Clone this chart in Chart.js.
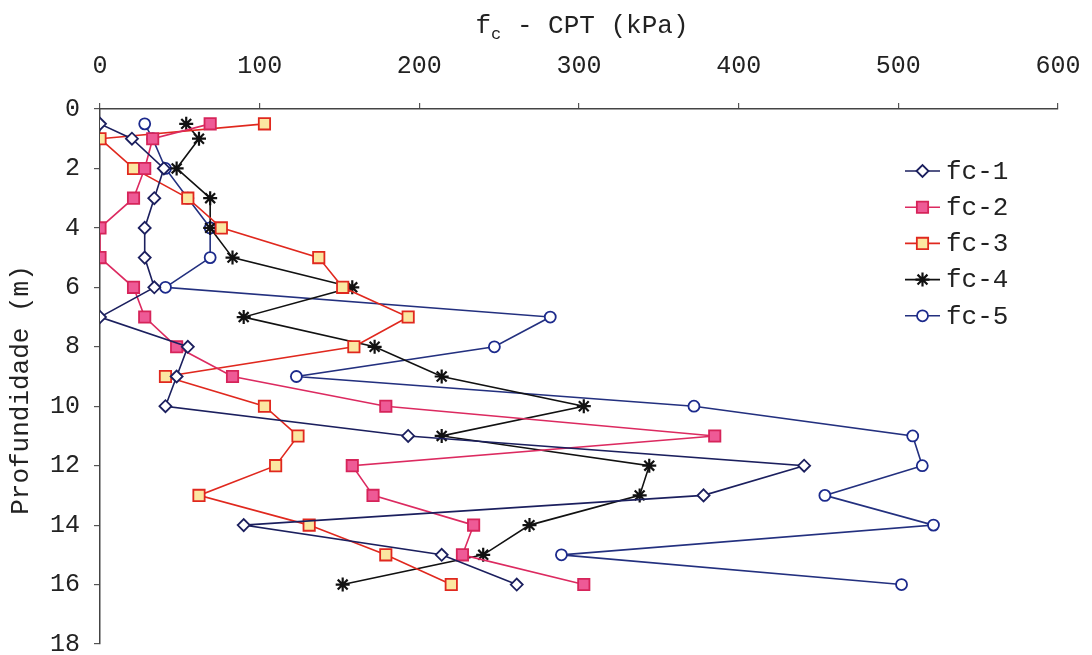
<!DOCTYPE html>
<html lang="pt">
<head>
    <meta charset="UTF-8">
    <title>fc - CPT x Profundidade</title>
    <script src="https://cdn.jsdelivr.net/npm/chart.js"></script>
    <style>
        body { margin: 0; background: #fff; }
        #wrap { position: relative; width: 1092px; height: 655px; }
    </style>
</head>
<body>
<div id="wrap">
    <canvas id="fcChart" width="1092" height="655"></canvas>
</div>

<script>
    // profundidade (m) de cada leitura
    const depths = [0.5, 1, 2, 3, 4, 5, 6, 7, 8, 9, 10, 11, 12, 13, 14, 15, 16];

    // atrito lateral fc (kPa) por ensaio
    const fc1 = [0, 20, 40, 34, 28, 28, 34, 0, 55, 48, 41, 193, 441, 378, 90, 214, 261];
    const fc2 = [69, 33, 28, 21, 0, 0, 21, 28, 48, 83, 179, 385, 158, 171, 234, 227, 303];
    const fc3 = [103, 0, 21, 55, 76, 137, 152, 193, 159, 41, 103, 124, 110, 62, 131, 179, 220];
    const fc4 = [54, 62, 48, 69, 69, 83, 158, 90, 172, 214, 303, 214, 344, 338, 269, 240, 152];
    const fc5 = [28, 33, 41, 55, 69, 69, 41, 282, 247, 123, 372, 509, 515, 454, 522, 289, 502];

    const seriesNames = ["fc-1", "fc-2", "fc-3", "fc-4", "fc-5"];
    const xTicks = [0, 100, 200, 300, 400, 500, 600];
    const yTicks = [0, 2, 4, 6, 8, 10, 12, 14, 16, 18];

    const FONT = "'Liberation Mono', 'DejaVu Sans Mono', monospace";
    const TXT = "#222";

    function toPoints(vals) {
        return vals.map((v, i) => ({ x: v, y: depths[i] }));
    }

    const styles = [
        { line: "#1b1f5e", fill: "#ffffff", border: "#1b1f5e", point: "rectRot", r: 6 },
        { line: "#dc2a60", fill: "#ee5a96", border: "#d6245a", point: "rect", r: 8 },
        { line: "#e0281e", fill: "#fbe7a1", border: "#e0281e", point: "rect", r: 8 },
        { line: "#111111", fill: "#111111", border: "#111111", point: "star", r: 7 },
        { line: "#23307f", fill: "#ffffff", border: "#1c2a8c", point: "circle", r: 5.5 }
    ];

    const allSeries = [fc1, fc2, fc3, fc4, fc5];

    const datasets = allSeries.map((vals, i) => ({
        label: seriesNames[i],
        data: toPoints(vals),
        showLine: true,
        borderColor: styles[i].line,
        borderWidth: 1.6,
        pointStyle: styles[i].point,
        pointRadius: styles[i].r,
        pointBackgroundColor: styles[i].fill,
        pointBorderColor: styles[i].border,
        pointBorderWidth: i === 3 ? 2.2 : 1.8,
        tension: 0
    }));

    // titulo do eixo x com subscrito e titulo do eixo y
    const axisTitles = {
        id: "axisTitles",
        afterDraw(chart) {
            const ctx = chart.ctx;
            ctx.save();
            ctx.fillStyle = TXT;
            ctx.textBaseline = "alphabetic";
            ctx.font = "26px " + FONT;
            const wf = ctx.measureText("f").width;
            ctx.font = "17px " + FONT;
            const wc = ctx.measureText("c").width;
            ctx.font = "26px " + FONT;
            const rest = " - CPT (kPa)";
            const wr = ctx.measureText(rest).width;
            let x0 = 582 - (wf + wc + wr) / 2;
            ctx.fillText("f", x0, 33);
            ctx.font = "17px " + FONT;
            ctx.fillText("c", x0 + wf, 39);
            ctx.font = "26px " + FONT;
            ctx.fillText(rest, x0 + wf + wc, 33);

            ctx.translate(21, 390);
            ctx.rotate(-Math.PI / 2);
            ctx.textAlign = "center";
            ctx.textBaseline = "middle";
            ctx.fillText("Profundidade (m)", 0, 0);
            ctx.restore();
        }
    };

    // legenda dentro da area do grafico: linha + marcador + texto
    const lineLegend = {
        id: "lineLegend",
        afterDraw(chart) {
            const ctx = chart.ctx;
            ctx.save();
            chart.data.datasets.forEach((ds, i) => {
                const y = 171 + i * 36.2;
                ctx.strokeStyle = ds.borderColor;
                ctx.lineWidth = 1.6;
                ctx.beginPath();
                ctx.moveTo(905, y);
                ctx.lineTo(940, y);
                ctx.stroke();
                ctx.fillStyle = ds.pointBackgroundColor;
                ctx.strokeStyle = ds.pointBorderColor;
                ctx.lineWidth = ds.pointBorderWidth;
                Chart.helpers.drawPoint(ctx, {
                    pointStyle: ds.pointStyle,
                    radius: ds.pointRadius,
                    rotation: 0,
                    borderWidth: ds.pointBorderWidth
                }, 922.5, y);
                ctx.fillStyle = TXT;
                ctx.font = "26px " + FONT;
                ctx.textBaseline = "middle";
                ctx.fillText(ds.label, 946, y + 1);
            });
            ctx.restore();
        }
    };

    const ctx = document.getElementById("fcChart").getContext("2d");

    new Chart(ctx, {
        type: "scatter",
        data: { datasets: datasets },
        options: {
            responsive: false,
            animation: false,
            layout: { padding: { top: 0, left: 0, right: 34, bottom: 11 } },
            plugins: {
                legend: { display: false },
                tooltip: { enabled: false },
                title: { display: false }
            },
            scales: {
                x: {
                    type: "linear",
                    position: "top",
                    min: 0,
                    max: 600,
                    afterBuildTicks: (scale) => { scale.ticks = xTicks.map(v => ({ value: v })); },
                    afterFit: (scale) => {
                        scale.height = 109;
                        scale.paddingLeft = 0;
                        scale.paddingRight = 0;
                    },
                    ticks: {
                        font: { family: FONT, size: 25 },
                        color: TXT,
                        padding: 22,
                        maxRotation: 0
                    },
                    grid: { drawOnChartArea: false, tickLength: 6, color: "#555", lineWidth: 1.2 },
                    border: { display: true, color: "#444", width: 1.5 }
                },
                y: {
                    type: "linear",
                    reverse: true,
                    min: 0,
                    max: 18,
                    afterBuildTicks: (scale) => { scale.ticks = yTicks.map(v => ({ value: v })); },
                    afterFit: (scale) => {
                        scale.width = 100;
                        scale.paddingTop = 0;
                        scale.paddingBottom = 0;
                    },
                    ticks: {
                        font: { family: FONT, size: 25 },
                        color: TXT,
                        padding: 14
                    },
                    grid: { drawOnChartArea: false, tickLength: 6, color: "#555", lineWidth: 1.2 },
                    border: { display: true, color: "#444", width: 1.5 }
                }
            }
        },
        plugins: [axisTitles, lineLegend]
    });
</script>
</body>
</html>
